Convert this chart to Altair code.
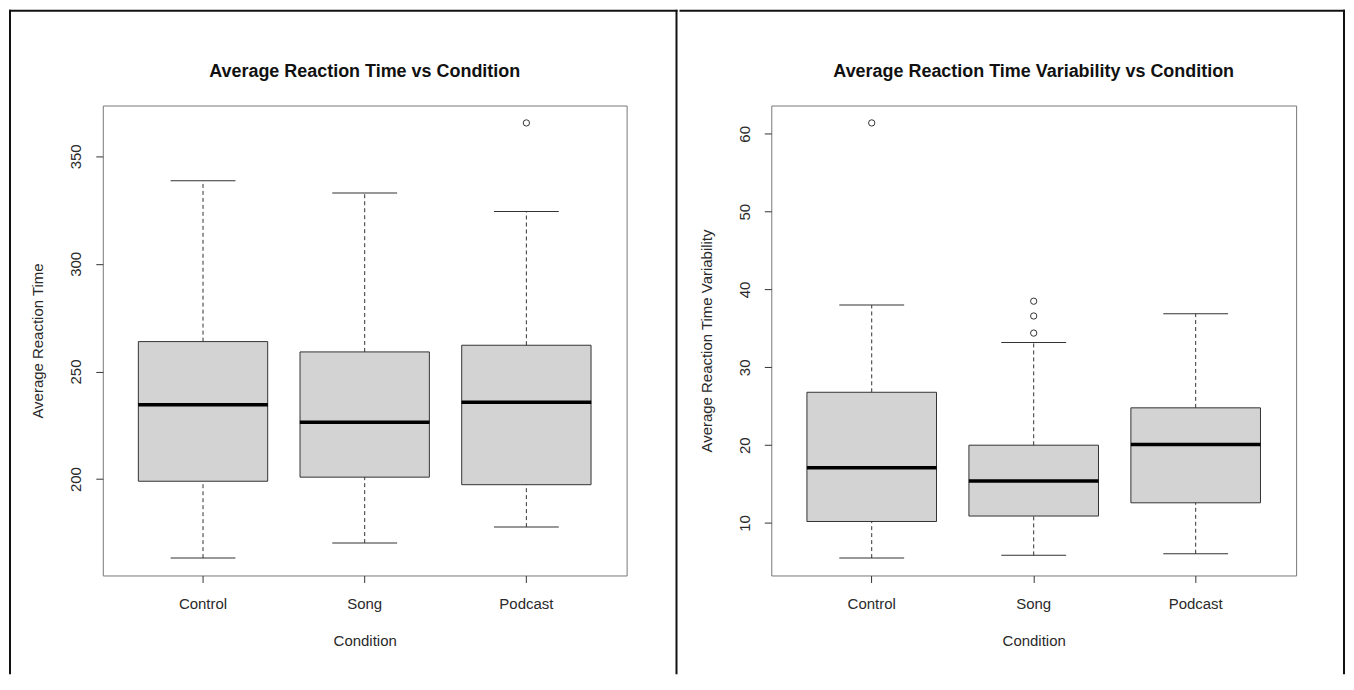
import altair as alt
import pandas as pd

FONT = "Liberation Sans"

conditions = ["Control", "Song", "Podcast"]

# Average Reaction Time (left panel)
rt_low = [163.3, 170.3, 177.7]
rt_q1 = [199.0, 200.9, 197.4]
rt_med = [234.6, 226.4, 235.7]
rt_q3 = [263.9, 259.1, 262.2]
rt_high = [338.6, 332.9, 324.4]
rt_out_cond = ["Podcast"]
rt_out_val = [365.5]
rt_ticks = [200, 250, 300, 350]

# Average Reaction Time Variability (right panel)
var_low = [5.5, 5.85, 6.06]
var_q1 = [10.2, 10.9, 12.6]
var_med = [17.1, 15.4, 20.1]
var_q3 = [26.8, 20.0, 24.8]
var_high = [38.0, 33.2, 36.9]
var_out_cond = ["Control", "Song", "Song", "Song"]
var_out_val = [61.4, 34.4, 36.6, 38.5]
var_ticks = [10, 20, 30, 40, 50, 60]

H = 471
TXT = "#2a2a2a"
LINE = "#333333"
BORDER = "#111111"


def panel(title, ytitle, low, q1, med, q3, high, out_c, out_v, ticks, W, borders):
    df = pd.DataFrame({"cond": conditions, "low": low, "q1": q1, "med": med,
                       "q3": q3, "high": high})
    odf = pd.DataFrame({"cond": out_c, "val": out_v})
    allv = low + high + out_v
    lo, hi = min(allv), max(allv)
    pad = 0.04 * (hi - lo)
    yscale = alt.Scale(domain=[lo - pad, hi + pad], nice=False, zero=False)
    xscale = alt.Scale(domain=conditions, paddingInner=0.2, paddingOuter=0.22)

    xaxis = alt.Axis(title="Condition", labelAngle=0, domain=False, grid=False,
                     tickSize=7, tickColor=LINE, tickWidth=1,
                     labelFont=FONT, labelFontSize=15, labelColor=TXT, labelPadding=14,
                     titleFont=FONT, titleFontSize=15, titleFontWeight="normal",
                     titleColor=TXT, titleY=65, titleBaseline="middle")
    yaxis = alt.Axis(title=ytitle, values=ticks, domain=False, grid=False,
                     tickSize=7, tickColor=LINE, tickWidth=1,
                     labelAngle=-90, labelAlign="center", labelBaseline="bottom",
                     labelPadding=12, labelFont=FONT, labelFontSize=15, labelColor=TXT,
                     titleFont=FONT, titleFontSize=15, titleFontWeight="normal",
                     titleColor=TXT, titleX=-65, titleY=H / 2, titleAngle=-90,
                     titleAlign="center", titleBaseline="middle")

    def X():
        return alt.X("cond:N", scale=xscale, sort=conditions, axis=xaxis)

    def Y(f):
        return alt.Y(f, scale=yscale, axis=yaxis)

    base = alt.Chart(df)
    lower = base.mark_rule(color=LINE, strokeWidth=1, strokeDash=[4, 3], opacity=1).encode(
        x=X(), y=Y("low:Q"), y2="q1:Q")
    upper = base.mark_rule(color=LINE, strokeWidth=1, strokeDash=[4, 3], opacity=1).encode(
        x=X(), y=Y("q3:Q"), y2="high:Q")
    cap_lo = base.mark_tick(color=LINE, size=65, thickness=1, opacity=1).encode(
        x=X(), y=Y("low:Q"))
    cap_hi = base.mark_tick(color=LINE, size=65, thickness=1, opacity=1).encode(
        x=X(), y=Y("high:Q"))
    box = base.mark_bar(fill="#d3d3d3", stroke=LINE, strokeWidth=1, opacity=1).encode(
        x=X(), y=Y("q1:Q"), y2="q3:Q")
    median = base.mark_tick(color="#000000", size=130, thickness=3.5, opacity=1).encode(
        x=X(), y=Y("med:Q"))
    outl = alt.Chart(odf).mark_point(shape="circle", filled=False, size=40,
                                     strokeWidth=1, color="#333333", opacity=1).encode(
        x=alt.X("cond:N", scale=xscale, sort=conditions, axis=xaxis), y=Y("val:Q"))

    tdf = pd.DataFrame({"t": [title]})
    ttl = alt.Chart(tdf).mark_text(font=FONT, fontSize=18, fontWeight="bold",
                                   color="#111111", align="center",
                                   baseline="middle").encode(
        x=alt.value(W / 2), y=alt.value(-34), text="t:N")

    layers = [box, lower, upper, cap_lo, cap_hi, median, outl, ttl]
    bdf = pd.DataFrame({"b": [0]})
    for (x0, x1, y0, y1) in borders:
        layers.append(alt.Chart(bdf).mark_rect(color=BORDER, opacity=1).encode(
            x=alt.value(x0), x2=alt.value(x1), y=alt.value(y0), y2=alt.value(y1)))

    return alt.layer(*layers).properties(width=W, height=H)


# frame pieces (filled rects, so the layout bounds are exact)
left_borders = [(-94, -92, -96, 570),   # left edge
                (-94, 576, -96, -94),   # top edge
                (574, 576, -96, 570)]   # divider
right_borders = [(-92, 575, -96, -94),  # top edge
                 (573, 575, -96, 570)]  # right edge

left = panel("Average Reaction Time vs Condition", "Average Reaction Time",
             rt_low, rt_q1, rt_med, rt_q3, rt_high, rt_out_cond, rt_out_val,
             rt_ticks, 525, left_borders)
right = panel("Average Reaction Time Variability vs Condition",
              "Average Reaction Time Variability",
              var_low, var_q1, var_med, var_q3, var_high, var_out_cond, var_out_val,
              var_ticks, 526, right_borders)

chart = alt.hconcat(left, right, spacing=0).properties(
    padding=0, background="white"
).configure_view(stroke="#777777", strokeWidth=1)

chart.save("out.html", embed_options={"renderer": "svg", "actions": False})
